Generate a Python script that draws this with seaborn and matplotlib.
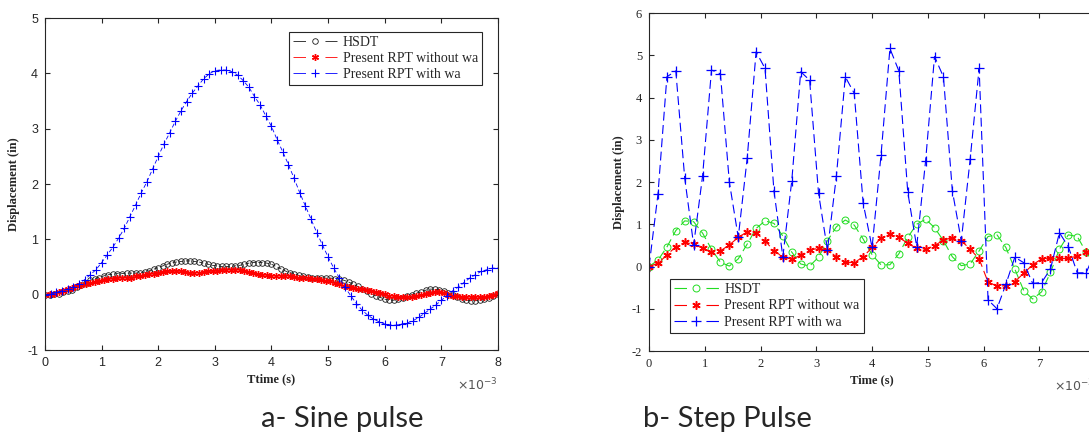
import numpy as np
import pandas as pd
import seaborn as sns
import matplotlib.pyplot as plt

sns.set_style('ticks')
plt.rcParams['font.family'] = ['Liberation Serif', 'DejaVu Serif']
plt.rcParams['axes.unicode_minus'] = False

t_sine = np.round(np.arange(101) * 0.08, 2)
t_sine_wa = np.round(np.arange(81) * 0.1, 2)
t_step = np.round(np.arange(51) * 0.16, 2)

labels = ['HSDT', 'Present RPT without wa', 'Present RPT with wa']

# a- sine pulse
sine_hsdt = [0.00, 0.00, 0.01, 0.02, 0.04, 0.06, 0.09, 0.13, 0.18, 0.22,
             0.26, 0.29, 0.31, 0.34, 0.36, 0.37, 0.38, 0.38, 0.39, 0.39,
             0.39, 0.40, 0.41, 0.43, 0.46, 0.49, 0.52, 0.55, 0.58, 0.59,
             0.60, 0.61, 0.61, 0.60, 0.59, 0.57, 0.55, 0.53, 0.52, 0.51,
             0.51, 0.51, 0.52, 0.53, 0.55, 0.57, 0.58, 0.58, 0.58, 0.57,
             0.55, 0.51, 0.47, 0.43, 0.40, 0.38, 0.35, 0.33, 0.32, 0.31,
             0.30, 0.30, 0.30, 0.30, 0.29, 0.28, 0.26, 0.23, 0.19, 0.15,
             0.10, 0.06, 0.02, -0.02, -0.05, -0.08, -0.10, -0.10, -0.08, -0.06,
             -0.03, 0.00, 0.03, 0.05, 0.08, 0.10, 0.10, 0.09, 0.07, 0.03,
             -0.01, -0.05, -0.08, -0.10, -0.11, -0.11, -0.10, -0.08, -0.06, -0.02,
             0.01]
sine_rpt = [0.00, 0.01, 0.02, 0.04, 0.07, 0.10, 0.12, 0.15, 0.17, 0.19,
            0.21, 0.23, 0.25, 0.26, 0.28, 0.29, 0.30, 0.30, 0.31, 0.31,
            0.33, 0.34, 0.35, 0.37, 0.38, 0.40, 0.41, 0.42, 0.42, 0.42,
            0.42, 0.41, 0.40, 0.40, 0.40, 0.41, 0.42, 0.42, 0.43, 0.44,
            0.45, 0.45, 0.45, 0.45, 0.43, 0.41, 0.39, 0.37, 0.36, 0.35,
            0.34, 0.34, 0.34, 0.33, 0.33, 0.32, 0.31, 0.31, 0.30, 0.29,
            0.28, 0.27, 0.25, 0.24, 0.22, 0.19, 0.16, 0.13, 0.12, 0.11,
            0.10, 0.08, 0.07, 0.05, 0.03, 0.01, -0.02, -0.03, -0.05, -0.05,
            -0.05, -0.04, -0.02, -0.01, 0.01, 0.03, 0.04, 0.04, 0.03, 0.00,
            -0.02, -0.03, -0.04, -0.05, -0.05, -0.05, -0.05, -0.04, -0.02, 0.00,
            0.03]
sine_rpt_wa = [0.00, 0.01, 0.04, 0.07, 0.10, 0.14, 0.20, 0.27, 0.36, 0.45,
               0.58, 0.72, 0.86, 1.02, 1.20, 1.41, 1.62, 1.84, 2.04, 2.27,
               2.50, 2.72, 2.92, 3.13, 3.32, 3.49, 3.64, 3.77, 3.90, 3.99,
               4.05, 4.06, 4.06, 4.03, 3.97, 3.87, 3.75, 3.58, 3.43, 3.23,
               3.04, 2.80, 2.58, 2.35, 2.10, 1.84, 1.60, 1.36, 1.12, 0.90,
               0.68, 0.48, 0.30, 0.13, -0.02, -0.16, -0.28, -0.37, -0.44, -0.49,
               -0.53, -0.55, -0.55, -0.53, -0.51, -0.47, -0.41, -0.34, -0.26, -0.19,
               -0.10, -0.02, 0.07, 0.14, 0.22, 0.30, 0.36, 0.42, 0.45, 0.48,
               0.48]

# b- step pulse
step_hsdt = [0.00, 0.15, 0.46, 0.85, 1.08, 1.06, 0.79, 0.41, 0.10, 0.01,
             0.18, 0.53, 0.90, 1.08, 1.02, 0.72, 0.34, 0.06, 0.01, 0.22,
             0.61, 0.94, 1.10, 0.98, 0.65, 0.28, 0.04, 0.04, 0.30, 0.69,
             1.00, 1.12, 0.92, 0.61, 0.23, 0.02, 0.06, 0.37, 0.71, 0.75,
             0.45, -0.06, -0.57, -0.77, -0.60, -0.14, 0.41, 0.75, 0.71, 0.34,
             0.04]
step_rpt = [0.00, 0.08, 0.27, 0.47, 0.57, 0.53, 0.43, 0.34, 0.37, 0.51,
            0.69, 0.82, 0.79, 0.61, 0.37, 0.23, 0.17, 0.27, 0.39, 0.43,
            0.39, 0.23, 0.10, 0.09, 0.23, 0.45, 0.67, 0.76, 0.69, 0.55,
            0.43, 0.41, 0.49, 0.63, 0.68, 0.61, 0.41, 0.18, -0.37, -0.46,
            -0.46, -0.36, -0.16, 0.04, 0.18, 0.19, 0.19, 0.19, 0.25, 0.34,
            0.39]
step_rpt_wa = [0.00, 1.71, 4.49, 4.63, 2.09, 0.51, 2.14, 4.65, 4.56, 2.00,
               0.69, 2.56, 5.08, 4.69, 1.79, 0.23, 2.03, 4.61, 4.41, 1.73,
               0.39, 2.14, 4.49, 4.10, 1.50, 0.45, 2.63, 5.16, 4.63, 1.76,
               0.47, 2.50, 4.97, 4.49, 1.79, 0.61, 2.55, 4.69, -0.79, -1.00,
               -0.42, 0.22, 0.09, -0.40, -0.38, -0.06, 0.80, 0.47, -0.15, -0.15,
               0.35]

fig = plt.figure(figsize=(10.89, 4.32), dpi=100)
ax1 = fig.add_axes([0.0413, 0.1898, 0.416, 0.7685])
ax2 = fig.add_axes([0.596, 0.1875, 0.4096, 0.7824])

dark = '#262626'
asterisk = (6, 2, 0)  # matlab-like '*'


def draw(ax, x, y, color, marker, ms, label, ls, lw=0.6, mew=0.7, mfc=None):
    sns.lineplot(x=x, y=y, ax=ax, color=color, linestyle=ls, linewidth=lw,
                 marker=marker, markersize=ms,
                 markerfacecolor=color if mfc is None else mfc,
                 markeredgecolor=color, markeredgewidth=mew,
                 label=label, sort=False, estimator=None)


# left panel
draw(ax1, t_sine, sine_hsdt, '#1a1a1a', 'o', 4, labels[0], (0, (5, 3)), mfc='none', mew=0.6)
draw(ax1, t_sine, sine_rpt, '#ff0000', asterisk, 5, labels[1], (0, (5, 3)), mew=1.0)
draw(ax1, t_sine_wa, sine_rpt_wa, '#0000ff', '+', 6, labels[2], (0, (5, 3)), mew=0.8)

# right panel
draw(ax2, t_step, step_hsdt, '#22dd22', 'o', 5, labels[0], (0, (8, 4)), lw=0.8, mfc='none', mew=0.7)
draw(ax2, t_step, step_rpt, '#ff0000', asterisk, 6, labels[1], (0, (8, 4)), lw=0.8, mew=1.1)
draw(ax2, t_step, step_rpt_wa, '#0000ff', '+', 7, labels[2], (0, (8, 4)), lw=0.8, mew=0.9)

for ax, ylo, yhi, tfont, xl in [(ax1, -1, 5, 'Liberation Sans', 'Ttime (s)'),
                                (ax2, -2, 6, 'Liberation Serif', 'Time (s)')]:
    ax.set_xlim(0, 8)
    ax.set_ylim(ylo, yhi)
    ax.set_xticks(range(0, 9))
    ax.set_yticks(range(ylo, yhi + 1))
    ax.tick_params(direction='in', top=True, right=True, length=3.5, width=0.8,
                   colors=dark, labelsize=9, pad=5)
    for lab in ax.get_xticklabels() + ax.get_yticklabels():
        lab.set_family(tfont)
    for s in ax.spines.values():
        s.set_color(dark)
        s.set_linewidth(0.8)
    ax.set_xlabel(xl, fontsize=9, fontweight='bold', color=dark, labelpad=3)
    ax.set_ylabel('Displacement (in)', fontsize=9, fontweight='bold', color=dark, labelpad=5)
    ax.text(1.0, -0.105, r'$\times10^{-3}$', transform=ax.transAxes, ha='right',
            va='center', fontsize=9, color='#555555', family='DejaVu Sans')

legs = []
for ax, loc, anchor, spacing in [(ax1, 'upper right', (0.965, 0.958), 0.22),
                                 (ax2, 'lower left', (0.047, 0.053), 0.25)]:
    leg = ax.legend(loc=loc, bbox_to_anchor=anchor,
                    prop={'family': 'Liberation Serif', 'size': 10}, frameon=True,
                    fancybox=False, framealpha=1, edgecolor=dark, handlelength=3.2,
                    handletextpad=0.4, labelspacing=spacing, borderpad=0.3, borderaxespad=0)
    leg.get_frame().set_linewidth(0.8)
    # legend sample: one dash either side of the marker
    for h in leg.legend_handles:
        lw = h.get_linewidth()
        h.set_linestyle((0, (9 / lw, 14 / lw)))
    legs.append(leg)

fig.text(0.314, 0.012, 'a- Sine pulse', ha='center', va='baseline', fontsize=21, family='Lato')
fig.text(0.668, 0.012, 'b- Step Pulse', ha='center', va='baseline', fontsize=21, family='Lato')

fig.savefig('out.png', dpi=100)
